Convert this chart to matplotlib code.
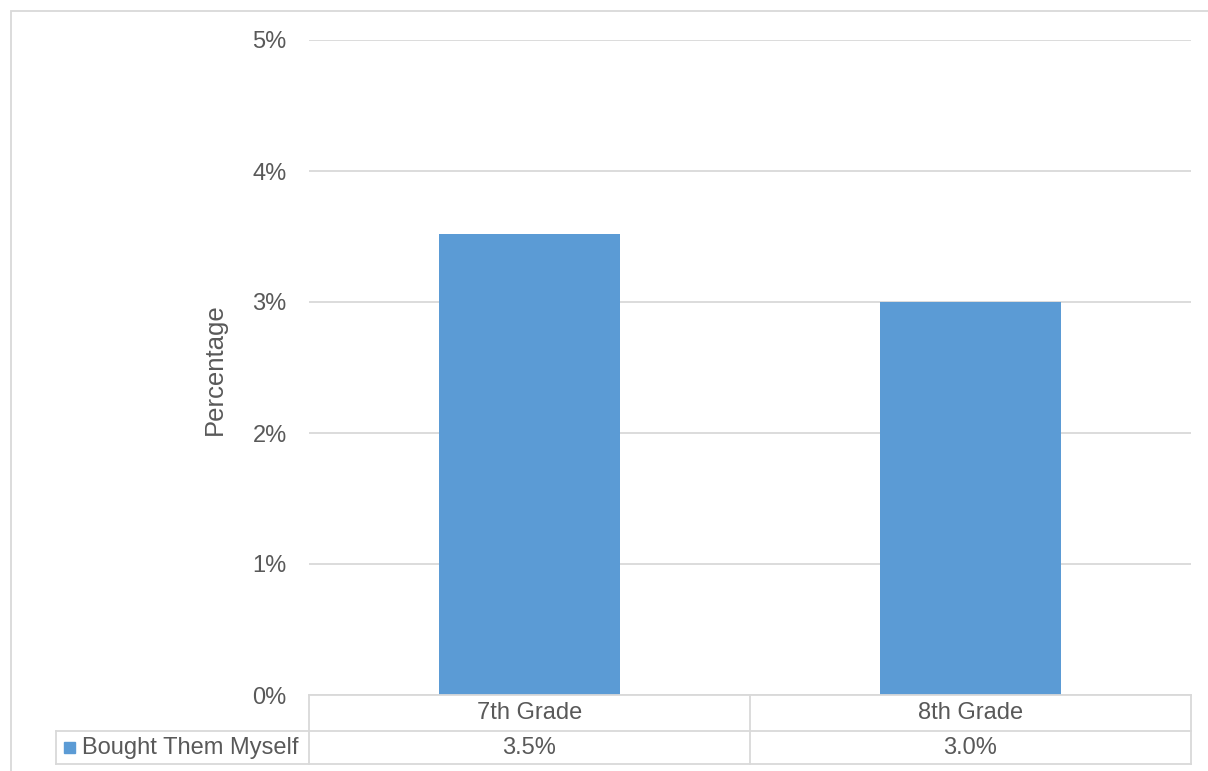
import matplotlib
matplotlib.use("Agg")
import matplotlib.pyplot as plt
from matplotlib.patches import Rectangle
from matplotlib.lines import Line2D
import matplotlib.transforms as mtransforms

categories = ["7th Grade", "8th Grade"]
values = [3.52, 3.0]
table_labels = ["3.5%", "3.0%"]
series_name = "Bought Them Myself"
yticks = [0, 1, 2, 3, 4, 5]
ytick_labels = ["0%", "1%", "2%", "3%", "4%", "5%"]

W, H = 1208, 771
plt.rcParams['font.family'] = ['Liberation Sans', 'DejaVu Sans']

fig = plt.figure(figsize=(W / 100, H / 100), dpi=100)

def fx(px):
    return px / W

def fy(py):
    return 1 - py / H

BAR = "#5b9bd5"
GRID = "#d9d9d9"
TXT = "#595959"

ax = fig.add_axes([fx(309), fy(695), fx(1191) - fx(309), fy(40) - fy(695)])
x = list(range(len(categories)))
ax.bar(x, values, width=0.41, color=BAR, zorder=3)
ax.set_xlim(-0.5, len(categories) - 0.5)
ax.set_ylim(0, 5)
ax.set_yticks(yticks)
ax.set_yticklabels(ytick_labels, fontsize=17, color=TXT)
ax.set_xticks([])
ax.grid(axis='y', color=GRID, linewidth=1.3, zorder=0)
for s in ax.spines.values():
    s.set_visible(False)
ax.tick_params(axis='y', length=0, pad=16)

fig.text(fx(215), fy(369), "Percentage", rotation=90, ha='center', va='center',
         fontsize=18.5, color=TXT)

# outer chart border
fig.add_artist(Rectangle((fx(11), fy(790)), fx(1220) - fx(11), fy(11) - fy(790),
                         transform=fig.transFigure, fill=False, edgecolor=GRID, linewidth=1.3))

def hline(py, x0, x1):
    fig.add_artist(Line2D([fx(x0), fx(x1)], [fy(py), fy(py)], transform=fig.transFigure,
                          color=GRID, linewidth=1.3))

def vline(px, y0, y1):
    fig.add_artist(Line2D([fx(px), fx(px)], [fy(y0), fy(y1)], transform=fig.transFigure,
                          color=GRID, linewidth=1.3))

hline(695, 309, 1191)
hline(731, 56, 1191)
hline(764, 56, 1191)
vline(56, 731, 764)
vline(309, 695, 764)
vline(750, 695, 764)
vline(1191, 695, 764)

trans = mtransforms.blended_transform_factory(ax.transData, fig.transFigure)
for i, (c, lab) in enumerate(zip(categories, table_labels)):
    ax.text(i, fy(713), c, transform=trans, ha='center', va='center', fontsize=17, color=TXT)
    ax.text(i, fy(748), lab, transform=trans, ha='center', va='center', fontsize=17, color=TXT)

fig.add_artist(Rectangle((fx(64), fy(753)), fx(75) - fx(64), fy(742) - fy(753),
                         transform=fig.transFigure, color=BAR))
fig.text(fx(82), fy(748), series_name, ha='left', va='center', fontsize=17, color=TXT)

fig.savefig("out.png", dpi=100, facecolor="white")
